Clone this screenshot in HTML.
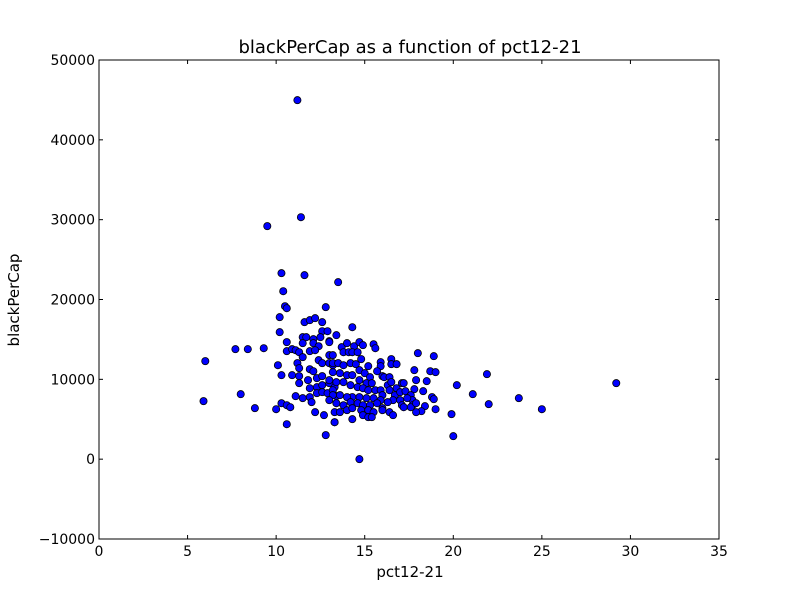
<!DOCTYPE html>
<html><head><meta charset="utf-8"><style>
html,body{margin:0;padding:0;background:#fff;}
svg text{font-family:"DejaVu Sans","Liberation Sans",sans-serif;fill:#000;}
</style></head><body>
<svg id="chart" width="800" height="600" xmlns="http://www.w3.org/2000/svg">
<rect x="0" y="0" width="800" height="600" fill="#fff"/>
<g id="points"></g>
<g id="axes"></g>
<text x="410" y="53" font-size="18" text-anchor="middle">blackPerCap as a function of pct12-21</text>
<text x="410" y="577" font-size="15" text-anchor="middle">pct12-21</text>
<text x="19" y="300" font-size="15" text-anchor="middle" transform="rotate(-90 19 300)">blackPerCap</text>
</svg>
<script>
const xTicks=[0,5,10,15,20,25,30,35];
const yTicks=[-10000,0,10000,20000,30000,40000,50000];
const yTickLabels=["\u221210000","0","10000","20000","30000","40000","50000"];
const xVals=[11.2,9.5,11.4,10.3,11.6,13.5,10.4,10.5,10.6,12.8,10.2,11.6,11.9,12.2,12.6,10.2,12.6,12.9,13.4,10.6,11.5,11.7,11.5,12.1,12.1,12.5,13.0,12.4,7.7,8.4,9.3,6.0,10.6,10.9,11.1,11.3,11.5,11.9,12.2,13.0,10.1,11.2,11.3,11.9,12.1,12.4,12.6,13.0,13.2,10.3,10.9,11.3,11.8,11.3,12.3,12.6,11.9,12.3,12.6,13.0,13.3,11.1,11.5,11.9,12.0,12.3,12.6,12.9,13.2,13.4,8.0,5.9,8.8,10.0,10.3,10.6,10.8,12.2,12.7,13.3,10.6,12.8,
18.0,18.9,21.9,20.2,21.1,22.0,19.9,20.0,14.7,17.8,18.7,19.0,17.9,18.5,17.8,18.3,18.8,18.9,19.0,18.4,18.2,17.9,23.7,25.0,29.2,
13.0,13.7,14.0,14.4,14.7,14.9,15.5,15.6,13.2,13.8,14.1,14.3,14.6,14.8,15.9,15.9,16.5,16.5,16.8,13.2,13.5,13.8,14.2,14.5,14.7,15.0,15.3,13.2,13.6,14.0,14.3,14.7,15.1,15.4,16.0,16.1,16.4,16.3,16.5,16.8,17.1,17.2,13.0,13.4,13.8,14.2,14.6,14.9,15.2,15.6,15.9,16.0,16.4,16.7,17.0,17.3,17.6,17.7,17.4,17.0,16.6,16.3,15.9,15.5,15.1,14.7,14.3,14.0,13.6,13.2,13.0,13.4,13.8,14.2,14.6,14.9,15.3,15.7,16.0,16.4,16.6,17.1,17.7,13.3,13.6,14.0,14.3,14.8,15.2,15.5,14.9,15.2,15.4,14.3,13.3,16.0,17.6,17.9,17.2,14.3,15.7,15.2];
const yVals=[44970,29190,30310,23300,23050,22170,21040,19160,18910,19040,17790,17160,17410,17660,17160,15910,16030,16030,15530,14660,15280,15280,14530,15030,14530,15280,14780,14150,13780,13780,13900,12280,13530,13780,13650,13400,12780,13530,13650,13030,11770,12030,11400,11270,11020,12400,12030,12030,11770,10520,10520,10400,9900,9520,10150,10400,8890,9020,9270,9520,9020,7890,7640,7770,7140,8270,8390,8270,8640,7890,8140,7270,6390,6260,7010,6760,6510,5890,5510,4630,4380,3010,
13280,12900,10650,9270,8140,6890,5640,2880,0,11150,11020,10900,9900,9770,8770,8520,7770,7520,6260,6640,6010,5890,7640,6260,9520,
14660,14030,14530,14150,14660,14280,14400,13900,13030,13400,13400,13400,13400,12530,12150,11650,12530,11900,11900,12030,12030,11770,12030,11900,11150,10770,10270,10900,10770,10520,10520,9900,9520,9520,10400,10270,10270,9270,9650,8890,9520,9520,9900,9650,9650,9270,9020,8890,8640,8640,8640,8020,8640,8020,8390,8520,8020,7390,7640,7390,7390,7140,7390,7640,7640,7770,7770,7770,8020,8020,7390,7010,6760,7140,7010,6760,6760,7010,6390,5890,5510,6760,6760,5890,5890,6140,6390,6140,6140,5890,5510,5260,5260,5010,4630,6140,6510,7010,6510,16530,11020,11650];
const L=99,R=719,T=60,B=539;
const xMin=0,xMax=35,yMin=-10000,yMax=50000;
function sx(v){return L+(v-xMin)/(xMax-xMin)*(R-L);}
function sy(v){return B-(v-yMin)/(yMax-yMin)*(B-T);}
const NS="http://www.w3.org/2000/svg";
const pg=document.getElementById('points');
for(let i=0;i<xVals.length;i++){
  const c=document.createElementNS(NS,'circle');
  c.setAttribute('cx',sx(xVals[i]));c.setAttribute('cy',sy(yVals[i]));
  c.setAttribute('r',3.6);c.setAttribute('fill','#0000ff');
  c.setAttribute('stroke','#000');c.setAttribute('stroke-width','0.8');
  
  
  pg.appendChild(c);
}
const ax=document.getElementById('axes');
const frame=document.createElementNS(NS,'rect');
frame.setAttribute('x',L);frame.setAttribute('y',T);frame.setAttribute('width',R-L);frame.setAttribute('height',B-T);
frame.setAttribute('fill','none');frame.setAttribute('stroke','#000');frame.setAttribute('stroke-width','1');


ax.appendChild(frame);
function line(x1,y1,x2,y2){const l=document.createElementNS(NS,'line');l.setAttribute('x1',x1);l.setAttribute('y1',y1);l.setAttribute('x2',x2);l.setAttribute('y2',y2);l.setAttribute('stroke','#000');l.setAttribute('stroke-width','1');ax.appendChild(l);return l;}
xTicks.forEach(v=>{
  const x=sx(v);
  const t1=line(x,B,x,B-4);
  
  
  const t2=line(x,T,x,T+4);
  
  
  const t=document.createElementNS(NS,'text');
  t.setAttribute('x',x);t.setAttribute('y',B+17);t.setAttribute('font-size','14');t.setAttribute('text-anchor','middle');
  t.textContent=String(v);
  
  
  ax.appendChild(t);
});
yTicks.forEach((v,i)=>{
  const y=sy(v);
  const t1=line(L,y,L+4,y);
  
  
  const t2=line(R,y,R-4,y);
  
  
  const t=document.createElementNS(NS,'text');
  t.setAttribute('x',L-4);t.setAttribute('y',y+5);t.setAttribute('font-size','14');t.setAttribute('text-anchor','end');
  t.textContent=yTickLabels[i];
  
  
  ax.appendChild(t);
});
</script>
</body></html>
